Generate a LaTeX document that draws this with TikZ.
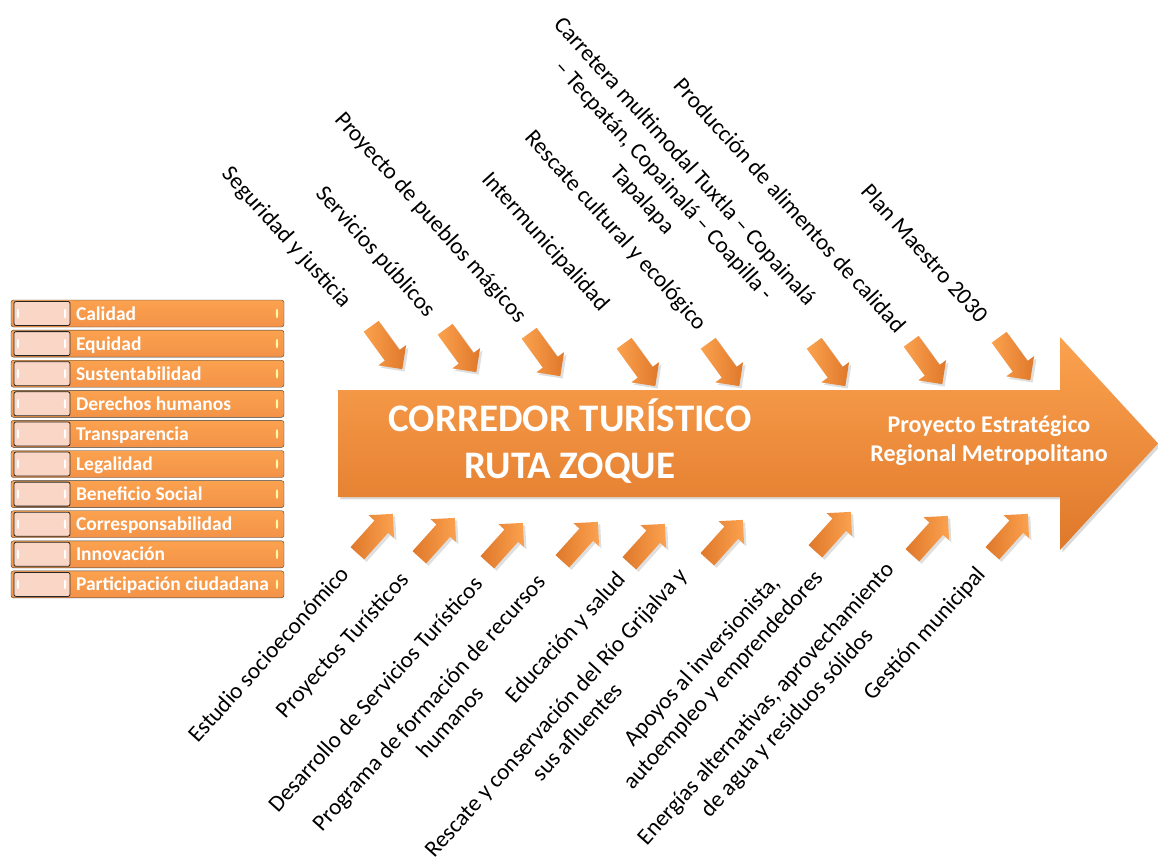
\documentclass[tikz,border=0pt]{standalone}
\usepackage{fontspec}
\setmainfont{Carlito}
\usepackage{xcolor}
\usepackage{tikz}
\usetikzlibrary{shapes,arrows,positioning,calc,shadows}

\definecolor{naranja}{HTML}{F39247}
\definecolor{naranjaclaro}{HTML}{FBA24F}
\definecolor{naranjaoscuro}{HTML}{DF782A}
\definecolor{rosa}{HTML}{F9D6C6}

\begin{document}
\begin{tikzpicture}[
    x=1pt, y=-1pt,
    node distance=2.7pt,
    fila/.style={rectangle, draw=black!75, rounded corners=2.5pt, top color=naranjaclaro, bottom color=naranja, minimum width=273pt, minimum height=27pt, inner sep=0pt,
        path picture={
            \draw[draw=black!85, thick, fill=rosa, rounded corners=2pt] ([xshift=3pt,yshift=1.5pt]path picture bounding box.south west) rectangle ([xshift=59pt,yshift=-1.5pt]path picture bounding box.north west);
            \fill[white] ([xshift=7pt]path picture bounding box.west) ellipse [x radius=1.2pt, y radius=5pt];
            \fill[white] ([xshift=54pt]path picture bounding box.west) ellipse [x radius=1.2pt, y radius=5pt];
            \fill[yellow!35] ([xshift=-7pt]path picture bounding box.east) ellipse [x radius=1.2pt, y radius=5pt];
        }},
    valor/.style={text=white, font=\bfseries\fontsize{19.5}{22}\selectfont, inner sep=0pt, text height=14pt, text depth=1pt},
    titulo/.style={text=white, font=\bfseries\fontsize{39}{47}\selectfont, align=center, inner sep=0pt},
    subtitulo/.style={text=white, font=\bfseries\fontsize{24}{29}\selectfont, align=center, inner sep=0pt},
    entra/.style={single arrow, draw=none, left color=naranjaclaro, right color=naranjaoscuro, minimum height=53pt, inner xsep=0pt, inner ysep=9pt, single arrow head extend=8pt, single arrow tip angle=90, rotate=-54, drop shadow={opacity=0.25}},
    sale/.style={single arrow, draw=none, left color=naranjaoscuro, right color=naranjaclaro, minimum height=53pt, inner xsep=0pt, inner ysep=9pt, single arrow head extend=8pt, single arrow tip angle=90, rotate=48, drop shadow={opacity=0.25}},
    arriba/.style={rotate=-48, align=center, font=\fontsize{23.2}{28.5}\selectfont, inner sep=0pt},
    abajo/.style={rotate=48, align=center, font=\fontsize{23.2}{28.5}\selectfont, inner sep=0pt}
]
    \useasboundingbox (0,0) rectangle (1158,861);

    % Values
    \node[fila] (calidad) at (147.5,313.5) {};
    \node[fila, below=of calidad] (equidad) {};
    \node[fila, below=of equidad] (sustentabilidad) {};
    \node[fila, below=of sustentabilidad] (derechos) {};
    \node[fila, below=of derechos] (transparencia) {};
    \node[fila, below=of transparencia] (legalidad) {};
    \node[fila, below=of legalidad] (beneficio) {};
    \node[fila, below=of beneficio] (corresponsabilidad) {};
    \node[fila, below=of corresponsabilidad] (innovacion) {};
    \node[fila, below=of innovacion] (participacion) {};
    \node[valor, right=65pt of calidad.west] (tcalidad) {Calidad};
    \node[valor, right=65pt of equidad.west] (tequidad) {Equidad};
    \node[valor, right=65pt of sustentabilidad.west] (tsustentabilidad) {Sustentabilidad};
    \node[valor, right=65pt of derechos.west] (tderechos) {Derechos humanos};
    \node[valor, right=65pt of transparencia.west] (ttransparencia) {Transparencia};
    \node[valor, right=65pt of legalidad.west] (tlegalidad) {Legalidad};
    \node[valor, right=65pt of beneficio.west] (tbeneficio) {Beneficio Social};
    \node[valor, right=65pt of corresponsabilidad.west] (tcorresponsabilidad) {Corresponsabilidad};
    \node[valor, right=65pt of innovacion.west] (tinnovacion) {Innovación};
    \node[valor, right=65pt of participacion.west] (tparticipacion) {Participación ciudadana};

    % Main arrow
    \path[top color=naranjaclaro, bottom color=naranjaoscuro, drop shadow={opacity=0.3}] (338,390) -- (1060,390) -- (1060,337) -- (1158,443.5) -- (1060,550) -- (1060,497) -- (338,497) -- cycle;
    \node[titulo] (corredor) at (570,441) {CORREDOR TURÍSTICO\\RUTA ZOQUE};
    \node[subtitulo] (proyecto) at (989,441) {Proyecto Estratégico\\Regional Metropolitano};

    % Top arrows
    \node[entra] (top1) at (384,344) {};
    \node[entra] (top2) at (458,347) {};
    \node[entra] (top3) at (542,351) {};
    \node[entra] (top4) at (637,361) {};
    \node[entra] (top5) at (721,361) {};
    \node[entra] (top6) at (827,361) {};
    \node[entra] (top7) at (924,359) {};
    \node[entra] (top8) at (1012,355) {};

    % Bottom arrows
    \node[sale] (bot1) at (372,537) {};
    \node[sale] (bot2) at (434,541) {};
    \node[sale] (bot3) at (502,546) {};
    \node[sale] (bot4) at (577,545) {};
    \node[sale] (bot5) at (644,547) {};
    \node[sale] (bot6) at (722,543) {};
    \node[sale] (bot7) at (830,535) {};
    \node[sale] (bot8) at (927,539) {};
    \node[sale] (bot9) at (1007,537) {};

    % Top labels
    \node[arriba] (seguridad) at (286,238) {Seguridad y justicia};
    \node[arriba] (servicios) at (375,252) {Servicios públicos};
    \node[arriba] (pueblos) at (430,218) {Proyecto de pueblos mágicos};
    \node[arriba] (intermun) at (545,242) {Intermunicipalidad};
    \node[arriba] (rescate) at (615,231) {Rescate cultural y ecológico};
    \node[arriba] (carretera) at (663,181) {Carretera multimodal Tuxtla – Copainalá\\– Tecpatán, Copainalá – Coapilla -\\Tapalapa};
    \node[arriba] (alimentos) at (790,205) {Producción de alimentos de calidad};
    \node[arriba] (plan) at (925,253) {Plan Maestro 2030};

    % Bottom labels
    \node[abajo] (estudio) at (268,654) {Estudio socioeconómico};
    \node[abajo] (proyectos) at (343,646) {Proyectos Turísticos};
    \node[abajo] (desarrollo) at (375,694) {Desarrollo de Servicios Turísticos};
    \node[abajo] (programa) at (439,712) {Programa de formación de recursos\\humanos};
    \node[abajo] (educacion) at (566,638) {Educación y salud};
    \node[abajo] (rio) at (566,722) {Rescate y conservación del Río Grijalva y\\sus afluentes};
    \node[abajo] (apoyos) at (713,671) {Apoyos al inversionista,\\autoempleo y emprendedores};
    \node[abajo] (energias) at (777,714) {Energías alternativas, aprovechamiento\\de agua y residuos sólidos};
    \node[abajo] (gestion) at (925,634) {Gestión municipal};
\end{tikzpicture}
\end{document}
